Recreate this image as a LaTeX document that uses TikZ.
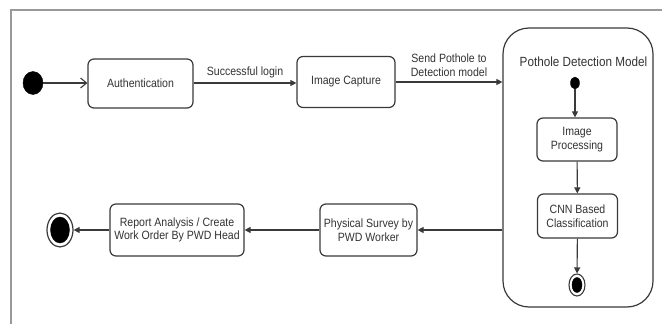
\documentclass[tikz,border=0pt]{standalone}
\usepackage{fontspec}
\setmainfont[FakeStretch=0.88]{Liberation Sans}
\usetikzlibrary{arrows.meta,shapes.geometric}
\definecolor{txt}{HTML}{333333}
\definecolor{ln}{HTML}{3A3A3A}
\definecolor{frame}{HTML}{999999}
\tikzset{
  x=1pt, y=-1pt,
  state/.style={draw=ln, line width=1.2pt, rounded corners=6pt, align=center,
    inner sep=2pt, text=txt, font=\fontsize{12}{13.5}\selectfont},
  lbl/.style={text=txt, align=center, font=\fontsize{12}{13.5}\selectfont, inner sep=1pt},
  conn/.style={draw=ln, line width=1.1pt, -{Triangle[length=6pt,width=6pt]}},
  dot/.style={ellipse, fill=black, draw=black, inner sep=0pt},
}
\begin{document}
\begin{tikzpicture}
\useasboundingbox (0,0) rectangle (662,324);
\fill[white] (0,0) rectangle (662,324);
% frame
\draw[frame, line width=2.5pt] (11,324) -- (11,10) -- (662,10);

% nodes
\node[dot, minimum width=20, minimum height=23] (start) at (33,83) {};
\node[state, minimum width=105, minimum height=49] (auth) at (140.5,83.5) {Authentication};
\node[state, minimum width=98, minimum height=51] (cap) at (346,82) {Image Capture};
\node[draw=ln, line width=1.2pt, rounded corners=26pt, minimum width=150, minimum height=279] (model) at (578,167.5) {};
\node[lbl, font=\fontsize{13.3}{15}\selectfont] (title) at (583.5,62) {Pothole Detection Model};
\node[dot, minimum width=9, minimum height=12] (istart) at (575,83) {};
\node[state, minimum width=80, minimum height=43] (proc) at (577,139.5) {Image\\Processing};
\node[state, minimum width=80, minimum height=44] (cnn) at (577.5,216) {CNN Based\\Classification};
\node[ellipse, draw=ln, line width=1.1pt, minimum width=16, minimum height=22, inner sep=0pt] (iend) at (577,285) {};
\node[dot, minimum width=10, minimum height=15] (iendin) at (577,285) {};
\node[state, minimum width=97, minimum height=52] (survey) at (368.5,230) {Physical Survey by\\PWD Worker};
\node[state, minimum width=134, minimum height=52] (report) at (177,230) {Report Analysis / Create\\Work Order By PWD Head};
\node[ellipse, draw=ln, line width=1.2pt, minimum width=26, minimum height=34, inner sep=0pt] (end) at (60,230) {};
\node[dot, minimum width=19, minimum height=26] (endin) at (60,230) {};

% connectors
\draw[draw=ln, line width=1.1pt, -{Straight Barb[length=6pt,width=10pt]}] (start) -- (auth.west |- start);
\draw[conn] (auth.east |- start) -- node[lbl, above=3pt] (l1) {Successful login} (cap.west |- start);
\draw[conn] (cap.east) -- node[lbl, above=4pt] (l2) {Send Pothole to\\Detection model} (cap.east -| model.west);
\draw[conn] (istart) -- (proc.north -| istart);
\draw[conn] (proc) -- (cnn);
\draw[conn] (cnn) -- (iend);
\draw[conn] (model.west |- survey.east) -- (survey.east);
\draw[conn] (survey.west) -- (report.east);
\draw[conn] (report.west) -- (end);
\end{tikzpicture}
\end{document}
